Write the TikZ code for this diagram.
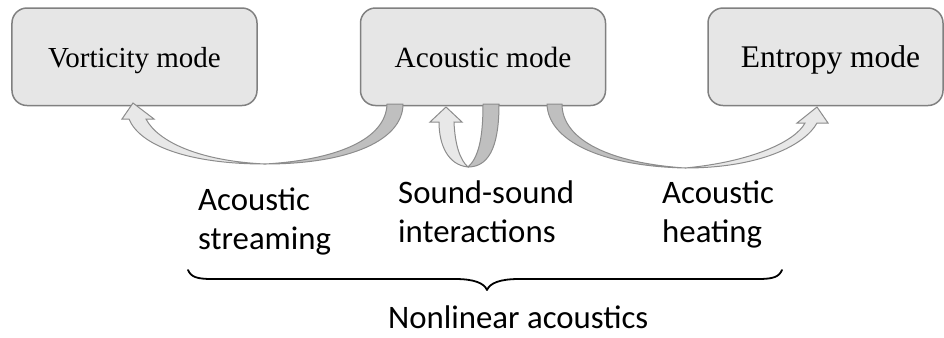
\documentclass[tikz,border=0pt]{standalone}
\usepackage{fontspec}
\setmainfont{Liberation Serif}
\newfontfamily\lblfont{Carlito}
\definecolor{boxfill}{RGB}{230,230,230}
\definecolor{boxline}{RGB}{128,128,128}
\definecolor{arrline}{RGB}{140,140,140}
\definecolor{darkband}{RGB}{191,191,191}
\definecolor{lightband}{RGB}{232,232,232}
\tikzset{
  modebox/.style={draw=boxline, fill=boxfill, line width=1.5bp, rounded corners=15bp,
    minimum width=245bp, minimum height=97.5bp, inner sep=0pt,
    text height=22bp, text depth=0bp},
  backband/.style={draw=arrline, fill=darkband, line width=1bp, line join=round},
  frontband/.style={draw=arrline, fill=lightband, line width=1bp, line join=miter},
  lbl/.style={anchor=base west, inner sep=0pt, font=\lblfont\fontsize{32.8bp}{39.5bp}\selectfont},
  bracestyle/.style={draw=black, line width=1.8bp, line cap=round, line join=round}
}
\begin{document}
\begin{tikzpicture}[x=1bp, y=-1bp]
\useasboundingbox (0,0) rectangle (944,337);

% boxes
\node[modebox] (vort) at (134.5,56.75) {\fontsize{29bp}{34bp}\selectfont Vorticity mode};
\node[modebox] (acou) at (483,56.75) {\fontsize{29.3bp}{34bp}\selectfont Acoustic mode};
\node[modebox, minimum width=235bp] (entr) at (825.5,56.75) {\fontsize{31.5bp}{36bp}\selectfont\kern10bp Entropy mode};

% left ribbon arrow: Acoustic -> Vorticity
\coordinate (lb) at (265,164);
\draw[backband] (387,104) -- (403,104) .. controls (403,140) and (350,164) .. (lb)
  .. controls (335,160) and (386,140) .. (387,104) -- cycle;
\draw[frontband] (lb) .. controls (190,164) and (140,146) .. (129,119) -- (122,119)
  -- (133,103) -- (154,119) -- (146,119) .. controls (158,142) and (200,161) .. (lb) -- cycle;

% middle loop: Acoustic -> Acoustic
\coordinate (mb) at (468,167);
\draw[backband] (483,104) -- (499,104) .. controls (499,140) and (492,167) .. (mb)
  .. controls (478,158) and (483,140) .. (483,104) -- cycle;
\draw[frontband] (mb) .. controls (448,165) and (439,145) .. (439,122) -- (430,122)
  -- (446,107) -- (462,122) -- (454,122) .. controls (455,145) and (460,160) .. (mb) -- cycle;

% right ribbon arrow: Acoustic -> Entropy
\coordinate (rb) at (685,168);
\draw[backband] (547,104) -- (562,104) .. controls (562,140) and (610,163) .. (rb)
  .. controls (600,166) and (548,140) .. (547,104) -- cycle;
\draw[frontband] (rb) .. controls (760,168) and (805,145) .. (817,123) -- (828,123)
  -- (817,107) -- (797,123) -- (805,123) .. controls (795,142) and (750,162) .. (rb) -- cycle;

% labels
\node[lbl] (ls) at (198,210) {\begin{tabular}[t]{@{}l@{}}Acoustic\\streaming\end{tabular}};
\node[lbl] (ss) at (398,203) {\begin{tabular}[t]{@{}l@{}}Sound-sound\\interactions\end{tabular}};
\node[lbl] (ah) at (662,203) {\begin{tabular}[t]{@{}l@{}}Acoustic\\heating\end{tabular}};

% brace
\draw[bracestyle] (188,270) .. controls (191,277) and (197,279) .. (212,279) -- (455,279)
  .. controls (474,279) and (484,283) .. (487,290)
  .. controls (490,283) and (500,279) .. (519,279) -- (758,279)
  .. controls (773,279) and (779,277) .. (782,270);

\node[lbl, text depth=0bp] (nl) at (388,328) {Nonlinear acoustics};
\end{tikzpicture}
\end{document}
